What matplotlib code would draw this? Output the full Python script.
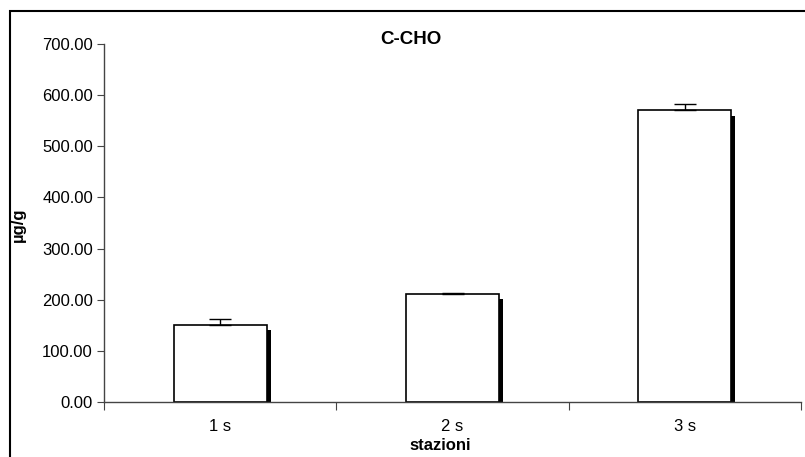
import matplotlib.pyplot as plt
from matplotlib.patches import Rectangle

# Data
stations = ["1 s", "2 s", "3 s"]
values = [150.0, 212.0, 570.0]
errors = [12.0, 1.0, 12.0]

plt.rcParams['font.family'] = ['Liberation Sans', 'DejaVu Sans']

fig = plt.figure(figsize=(8.05, 4.57), dpi=100)
ax = fig.add_axes([104/805, 1 - 402/457, 697/805, 358/457])

x = list(range(len(stations)))
width = 0.4

# shadow bars (offset right and down)
for xi, v in zip(x, values):
    ax.bar(xi + 0.017, v - 10, width=width, bottom=0, color='black', zorder=1)

ax.bar(x, values, width=width, color='white', edgecolor='black', linewidth=1.2, zorder=2)
ax.errorbar(x, values, yerr=[[0]*len(errors), errors], fmt='none', ecolor='black',
            elinewidth=1, capsize=8, capthick=1, zorder=3)

ax.set_xlim(-0.5, 2.5)
ax.set_ylim(0, 700)
ax.set_yticks(range(0, 701, 100))
ax.set_yticklabels([f"{t:.2f}" for t in range(0, 701, 100)], fontsize=12)

ax.set_xticks([-0.5, 0.5, 1.5, 2.5])
ax.set_xticklabels([])
ax.set_xticks(x, minor=True)
ax.set_xticklabels(stations, minor=True, fontsize=12)
ax.tick_params(axis='x', which='minor', length=0, pad=12)
ax.tick_params(axis='x', which='major', length=6, direction='out', color='#444444')
ax.tick_params(axis='y', length=5, direction='out', color='#444444', pad=3)

for s in ['top', 'right']:
    ax.spines[s].set_visible(False)
for s in ['left', 'bottom']:
    ax.spines[s].set_color('#444444')
    ax.spines[s].set_linewidth(1.0)

fig.text(411/805, 1 - 39/457, "C-CHO", ha='center', va='center', fontsize=13.5, fontweight='bold')
fig.text(18/805, 1 - 225/457, "µg/g", ha='center', va='center', rotation=90, fontsize=12, fontweight='bold')
fig.text(440/805, 1 - 445/457, "stazioni", ha='center', va='center', fontsize=12, fontweight='bold')

# outer frame
fig.patches.append(Rectangle((10/805, -0.05), 1.0, 1 - 11/457 + 0.05, transform=fig.transFigure,
                             fill=False, edgecolor='black', linewidth=1.5))

fig.savefig("out.png", dpi=100)
